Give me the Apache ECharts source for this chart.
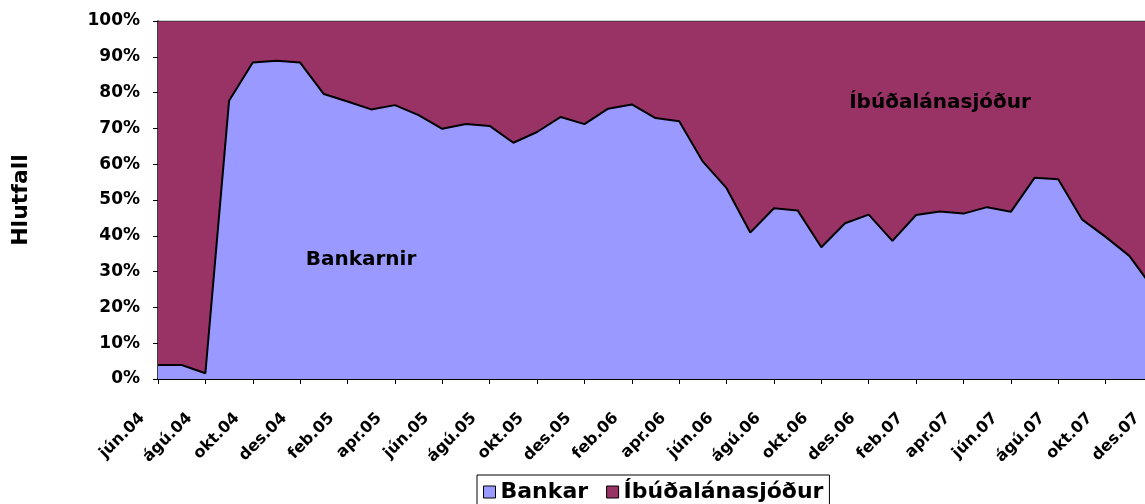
<!DOCTYPE html>
<html>
<head>
<meta charset="utf-8">
<script src="https://cdn.jsdelivr.net/npm/echarts@6/dist/echarts.min.js"></script>
<style>
html,body{margin:0;padding:0;background:#fff;}
#c{width:1145px;height:504px;}
</style>
</head>
<body>
<div id="c"></div>
<script>
const months = ['jún.04','júl.04','ágú.04','sep.04','okt.04','nóv.04','des.04',
  'jan.05','feb.05','mar.05','apr.05','maí.05','jún.05','júl.05','ágú.05','sep.05','okt.05','nóv.05','des.05',
  'jan.06','feb.06','mar.06','apr.06','maí.06','jún.06','júl.06','ágú.06','sep.06','okt.06','nóv.06','des.06',
  'jan.07','feb.07','mar.07','apr.07','maí.07','jún.07','júl.07','ágú.07','sep.07','okt.07','nóv.07','des.07'];
const bankar = [3.9,3.9,1.6,77.7,88.4,88.9,88.4,
  79.6,77.5,75.3,76.5,73.7,69.9,71.2,70.7,66.0,69.0,73.2,71.2,
  75.5,76.7,72.9,72.0,60.7,53.3,40.9,47.7,47.1,36.8,43.5,45.9,
  38.6,45.8,46.8,46.2,48.0,46.7,56.2,55.8,44.6,39.7,34.4,25.4];
const ibudalanasjodur = [96.1,96.1,98.4,22.3,11.6,11.1,11.6,
  20.4,22.5,24.7,23.5,26.3,30.1,28.8,29.3,34.0,31.0,26.8,28.8,
  24.5,23.3,27.1,28.0,39.3,46.7,59.1,52.3,52.9,63.2,56.5,54.1,
  61.4,54.2,53.2,53.8,52.0,53.3,43.8,44.2,55.4,60.3,65.6,74.6];
const seriesNames = ['Bankar','Íbúðalánasjóður'];
const yTicks = [0,10,20,30,40,50,60,70,80,90,100];

const FONT = 'DejaVu Sans';
const chart = echarts.init(document.getElementById('c'), null, {renderer:'canvas'});
chart.setOption({
  animation:false,
  backgroundColor:'#fff',
  grid:{left:158, top:21, width:995, bottom:125, outerBoundsMode:'none', containLabel:false},
  xAxis:{
    type:'category', data:months, boundaryGap:false,
    axisLine:{lineStyle:{color:'#000', width:2}},
    axisTick:{interval:1, length:5, lineStyle:{color:'#000'}},
    axisLabel:{interval:1, rotate:45, margin:21,
      color:'#000', fontFamily:FONT, fontWeight:'bold', fontSize:16,
      showMinLabel:true, showMaxLabel:true, hideOverlap:false,
      formatter: v => v + '    '}
  },
  yAxis:{
    type:'value', min:yTicks[0], max:yTicks[yTicks.length-1], interval:10,
    name:'Hlutfall', nameLocation:'middle', nameGap:126, nameRotate:90,
    nameTextStyle:{color:'#000', fontFamily:FONT, fontWeight:'bold', fontSize:22},
    axisLine:{show:true, lineStyle:{color:'#000', width:1.5}},
    axisTick:{show:true, length:5, lineStyle:{color:'#000'}},
    splitLine:{show:false},
    axisLabel:{formatter:'{value}%', margin:18, color:'#000', fontFamily:FONT, fontWeight:'bold', fontSize:17}
  },
  legend:{
    left:477, top:475, orient:'horizontal',
    padding:[6,6,6,6], itemGap:18, itemWidth:12, itemHeight:12,
    borderColor:'#000', borderWidth:1, icon:'rect',
    textStyle:{color:'#000', fontFamily:FONT, fontWeight:'bold', fontSize:22},
    data:[
      {name:seriesNames[0], itemStyle:{color:'#9999FF', borderColor:'#000', borderWidth:1}},
      {name:seriesNames[1], itemStyle:{color:'#993366', borderColor:'#000', borderWidth:1}}
    ]
  },
  series:[
    {name:seriesNames[0], type:'line', stack:'tot', data:bankar, symbol:'none',
     color:'#9999FF',
     lineStyle:{color:'#000', width:2}, areaStyle:{color:'#9999FF', opacity:1}},
    {name:seriesNames[1], type:'line', stack:'tot', data:ibudalanasjodur, symbol:'none',
     color:'#993366',
     lineStyle:{color:'#333', width:1}, areaStyle:{color:'#993366', opacity:1}}
  ],
  graphic:[
    {type:'text', x:361, y:260, z:100, style:{text:'Bankarnir', fill:'#000', font:'bold 20px "DejaVu Sans"', align:'center', verticalAlign:'middle'}},
    {type:'text', x:940, y:103, z:100, style:{text:'Íbúðalánasjóður', fill:'#000', font:'bold 20px "DejaVu Sans"', align:'center', verticalAlign:'middle'}}
  ]
});
</script>
</body>
</html>
